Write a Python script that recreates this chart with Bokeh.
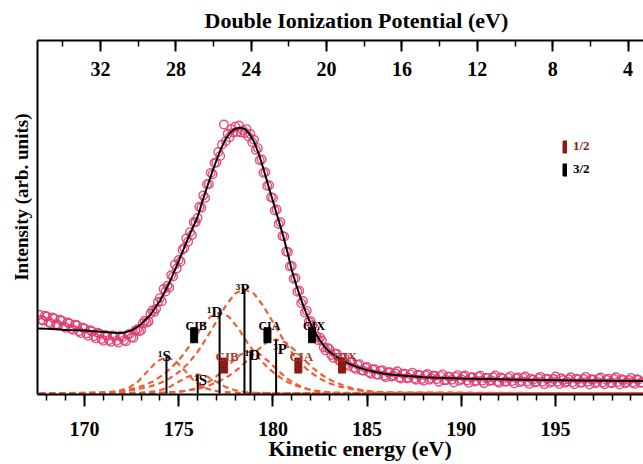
from bokeh.plotting import figure
from bokeh.models import (Range1d, LinearAxis, SingleIntervalTicker, FixedTicker,
                          Title, Legend, LegendItem, ColumnDataSource)
from bokeh.embed import file_html
from bokeh.resources import INLINE
from bokeh.core.properties import value

# ---------------- data ----------------
# experimental spectrum (kinetic energy, eV ; intensity, arb. units)
DATA_KE = [167.6, 167.8, 168.0, 168.2, 168.4, 168.6, 168.8, 169.0, 169.2, 169.4, 169.6, 169.8,
           170.0, 170.2, 170.4, 170.6, 170.8, 171.0, 171.2, 171.4, 171.6, 171.8, 172.0, 172.2,
           172.4, 172.6, 172.8, 173.0, 173.2, 173.4, 173.6, 173.8,
           174.0, 174.1, 174.2, 174.3, 174.4, 174.5, 174.6, 174.7, 174.8, 174.9,
           175.0, 175.1, 175.2, 175.3, 175.4, 175.5, 175.6, 175.7, 175.8, 175.9,
           176.0, 176.1, 176.2, 176.3, 176.4, 176.5, 176.6, 176.7, 176.8, 176.9,
           177.0, 177.1, 177.2, 177.3, 177.4, 177.5, 177.6, 177.7, 177.8, 177.9,
           178.0, 178.1, 178.2, 178.3, 178.4, 178.5, 178.6, 178.7, 178.8, 178.9,
           179.0, 179.1, 179.2, 179.3, 179.4, 179.5, 179.6, 179.7, 179.8, 179.9,
           180.0, 180.1, 180.2, 180.3, 180.4, 180.5, 180.6, 180.7, 180.8, 180.9,
           181.0, 181.1, 181.2, 181.3, 181.4, 181.5, 181.6, 181.7, 181.8, 181.9, 182.0,
           182.2, 182.4, 182.6, 182.8, 183.0, 183.2, 183.4, 183.6, 183.8,
           184.0, 184.2, 184.4, 184.6, 184.8, 185.0, 185.2, 185.4, 185.6, 185.8,
           186.0, 186.2, 186.4, 186.6, 186.8, 187.0, 187.2, 187.4, 187.6, 187.8,
           188.0, 188.2, 188.4, 188.6, 188.8, 189.0, 189.2, 189.4, 189.6, 189.8,
           190.0, 190.2, 190.4, 190.6, 190.8, 191.0, 191.2, 191.4, 191.6, 191.8,
           192.0, 192.2, 192.4, 192.6, 192.8, 193.0, 193.2, 193.4, 193.6, 193.8,
           194.0, 194.2, 194.4, 194.6, 194.8, 195.0, 195.2, 195.4, 195.6, 195.8,
           196.0, 196.2, 196.4, 196.6, 196.8, 197.0, 197.2, 197.4, 197.6, 197.8,
           198.0, 198.2, 198.4, 198.6, 198.8, 199.0, 199.2, 199.4, 199.6]
DATA_I = [22.3, 20.6, 21.8, 19.9, 21.2, 19.4, 20.6, 18.6, 19.9, 18.0, 19.3, 17.1,
          18.4, 16.3, 17.6, 15.6, 16.9, 14.9, 16.3, 14.6, 16.2, 14.4, 15.9, 14.8,
          16.9, 15.8, 18.2, 17.9, 20.6, 20.4, 23.5, 24.0,
          27.0, 26.1, 29.6, 28.9, 30.5, 30.0, 33.5, 33.1, 36.5, 35.4,
          37.8, 37.4, 40.7, 41.2, 43.9, 43.0, 45.7, 44.9, 48.5, 48.5,
          49.7, 52.9, 52.6, 56.1, 55.4, 59.3, 59.3, 62.5, 62.1, 65.3,
          65.4, 68.4, 67.3, 70.5, 76.2, 71.5, 73.6, 72.6, 74.9, 73.9,
          75.6, 74.1, 75.9, 73.9, 74.6, 73.8, 74.9, 72.8, 73.5, 71.2,
          71.9, 69.0, 69.5, 66.1, 66.3, 62.5, 62.7, 58.8, 59.0, 55.6,
          55.4, 51.8, 52.1, 48.0, 48.5, 44.6, 44.5, 40.2, 40.1, 36.0,
          36.1, 32.5, 32.7, 28.8, 29.1, 25.6, 26.2, 22.9, 23.4, 20.3, 20.5,
          18.4, 15.1, 15.0, 12.2, 12.6, 10.1, 11.2, 9.0, 10.1,
          7.8, 9.0, 6.9, 8.3, 6.4, 7.5, 5.6, 6.9, 5.3, 6.6,
          4.6, 6.0, 5.1, 6.3, 4.2, 5.6, 4.4, 5.9, 3.9, 5.2,
          3.6, 5.5, 4.3, 5.0, 3.3, 5.4, 3.8, 4.7, 3.1, 5.2,
          4.0, 5.1, 3.0, 4.6, 3.6, 5.0, 2.9, 4.4, 3.7, 5.1,
          3.0, 4.2, 3.4, 4.9, 2.8, 4.5, 3.5, 4.8, 2.7, 3.9,
          3.3, 4.7, 2.6, 4.1, 3.4, 4.8, 2.7, 3.8, 3.3, 4.6,
          2.6, 4.0, 3.1, 4.7, 2.5, 3.9, 3.2, 4.5, 2.6, 4.2,
          2.9, 4.6, 2.5, 3.8, 3.2, 4.4, 2.7, 3.9, 3.1]
# interleaved channels of the same spectrum (flat regions)
DATA2_KE = [167.7, 167.9, 168.1, 168.3, 168.5, 168.7, 168.9, 169.1, 169.3, 169.5, 169.7, 169.9,
            170.1, 170.3, 170.5, 170.7, 170.9, 171.1, 171.3, 171.5, 171.7, 171.9, 172.1, 172.3,
            172.5, 172.7, 172.9, 173.1, 173.3, 173.5, 173.7, 173.9,
            182.1, 182.3, 182.5, 182.7, 182.9, 183.1, 183.3, 183.5, 183.7, 183.9,
            184.1, 184.3, 184.5, 184.7, 184.9, 185.1, 185.3, 185.5, 185.7, 185.9,
            186.1, 186.3, 186.5, 186.7, 186.9, 187.1, 187.3, 187.5, 187.7, 187.9,
            188.1, 188.3, 188.5, 188.7, 188.9, 189.1, 189.3, 189.5, 189.7, 189.9,
            190.1, 190.3, 190.5, 190.7, 190.9, 191.1, 191.3, 191.5, 191.7, 191.9,
            192.1, 192.3, 192.5, 192.7, 192.9, 193.1, 193.3, 193.5, 193.7, 193.9,
            194.1, 194.3, 194.5, 194.7, 194.9, 195.1, 195.3, 195.5, 195.7, 195.9,
            196.1, 196.3, 196.5, 196.7, 196.9, 197.1, 197.3, 197.5, 197.7, 197.9,
            198.1, 198.3, 198.5, 198.7, 198.9, 199.1, 199.3, 199.5]
DATA2_I = [20.9, 22.0, 20.2, 21.5, 19.6, 20.9, 19.0, 20.1, 18.3, 19.5, 17.6, 18.6,
           17.0, 17.9, 16.2, 17.2, 15.4, 16.6, 15.1, 16.4, 14.9, 16.3, 15.1, 16.6,
           15.9, 17.8, 17.6, 19.9, 20.0, 22.6, 23.1, 25.9,
           19.3, 16.2, 15.8, 13.0, 12.9, 10.9, 11.3, 9.4, 10.0, 8.3,
           8.9, 7.3, 8.1, 6.6, 7.3, 6.0, 6.8, 5.4, 6.4, 5.0,
           6.0, 4.8, 5.7, 4.5, 5.6, 4.3, 5.4, 4.2, 5.3, 4.1,
           5.1, 3.9, 5.0, 4.0, 4.9, 3.7, 4.8, 3.9, 4.7, 3.6,
           4.8, 3.7, 4.5, 3.4, 4.7, 3.6, 4.4, 3.5, 4.6, 3.4,
           4.5, 3.3, 4.4, 3.5, 4.3, 3.2, 4.4, 3.4, 4.2, 3.1,
           4.3, 3.3, 4.2, 3.0, 4.1, 3.3, 4.3, 3.0, 4.0, 3.2,
           4.2, 3.0, 4.1, 3.3, 4.0, 2.9, 4.2, 3.1, 3.9, 3.0,
           4.1, 3.2, 4.0, 2.9, 3.8, 3.1, 4.0, 3.0]

# total fit
FIT_KE = [167.5, 168.0, 168.5, 169.0, 169.5, 170.0, 170.5, 171.0, 171.5, 172.0, 172.5, 173.0, 173.5,
          174.0, 174.5, 175.0, 175.5, 176.0,
          176.25, 176.5, 176.75, 177.0, 177.25, 177.5, 177.75, 178.0, 178.25, 178.5, 178.75,
          179.0, 179.25, 179.5, 179.75, 180.0, 180.25, 180.5, 180.75, 181.0, 181.25, 181.5,
          181.75, 182.0, 182.25, 182.5, 182.75,
          183.0, 183.5, 184.0, 184.5, 185.0, 185.5, 186.0, 186.5, 187.0,
          188.0, 189.0, 190.0, 192.0, 194.0, 196.0, 198.0, 199.7]
FIT_I = [18.4, 18.3, 18.2, 18.0, 17.9, 17.8, 17.6, 17.4, 17.2, 17.1, 17.8, 19.6, 22.3,
         26.2, 31.3, 37.5, 44.0, 50.0,
         54.3, 58.4, 62.3, 66.0, 69.4, 72.2, 74.0, 75.0, 75.3, 75.0, 73.6,
         71.3, 67.9, 63.6, 59.0, 54.5, 50.0, 45.5, 40.5, 35.0, 30.5, 26.5,
         23.0, 19.8, 17.2, 15.0, 13.2,
         11.8, 9.9, 8.5, 7.4, 6.6, 6.0, 5.5, 5.2, 5.0,
         4.6, 4.4, 4.2, 4.0, 3.8, 3.7, 3.6, 3.5]

# fit components (dashed)
C1_KE = [167.6, 170.35, 171.35, 171.85, 172.35, 172.85, 173.35, 173.85, 174.35, 174.85, 175.35, 175.85,
         176.35, 176.85, 177.35, 178.35, 199.7]
C1_I = [0.0, 0.1, 0.4, 0.8, 1.6, 3.4, 6.3, 9.1, 10.4, 9.1, 6.3, 3.4, 1.6, 0.8, 0.4, 0.1, 0.0]
C2_KE = [167.6, 172.0, 173.0, 173.5, 174.0, 174.5, 175.0, 175.5, 176.0, 176.5, 177.0, 177.5, 178.0,
         178.5, 179.0, 180.0, 199.7]
C2_I = [0.0, 0.05, 0.2, 0.4, 0.9, 1.8, 3.3, 4.8, 5.4, 4.8, 3.3, 1.8, 0.9, 0.4, 0.2, 0.05, 0.0]
C3_KE = [167.6, 171.17, 172.17, 172.67, 173.17, 173.67, 174.17, 174.67, 175.17, 175.67, 176.17, 176.67,
         177.17, 177.67, 178.17, 178.67, 179.17, 179.67, 180.17, 180.67, 181.17, 181.67, 182.17,
         183.17, 199.7]
C3_I = [0.0, 0.2, 0.8, 1.5, 2.3, 3.5, 5.3, 7.6, 10.5, 14.2, 18.4, 21.7, 22.9, 21.7, 18.4, 14.2,
        10.5, 7.6, 5.3, 3.5, 2.3, 1.5, 0.8, 0.2, 0.0]
C4_KE = [167.6, 171.49, 172.49, 172.99, 173.49, 173.99, 174.49, 174.99, 175.49, 175.99, 176.49, 176.99,
         177.49, 177.99, 178.49, 178.99, 179.49, 179.99, 180.49, 180.99, 181.49, 181.99, 182.49,
         182.99, 183.49, 184.49, 185.49, 199.7]
C4_I = [0.0, 0.3, 0.9, 1.4, 2.0, 2.9, 4.2, 6.0, 8.4, 11.7, 15.8, 20.3, 24.8, 28.3, 29.5, 28.3,
        24.8, 20.3, 15.8, 11.7, 8.4, 6.0, 4.2, 2.9, 2.0, 0.9, 0.3, 0.0]
C5_KE = [167.6, 173.81, 174.81, 175.31, 175.81, 176.31, 176.81, 177.31, 177.81, 178.31, 178.81, 179.31,
         179.81, 180.31, 180.81, 181.31, 181.81, 182.31, 182.81, 183.81, 199.7]
C5_I = [0.0, 0.1, 0.4, 0.7, 1.3, 2.4, 4.0, 6.3, 8.9, 11.1, 11.9, 11.1, 8.9, 6.3, 4.0, 2.4, 1.3,
        0.7, 0.4, 0.1, 0.0]
C6_KE = [167.6, 174.17, 175.17, 175.67, 176.17, 176.67, 177.17, 177.67, 178.17, 178.67, 179.17, 179.67,
         180.17, 180.67, 181.17, 181.67, 182.17, 182.67, 183.17, 183.67, 184.17, 184.67, 185.17,
         186.17, 199.7]
C6_I = [0.0, 0.2, 0.6, 1.0, 1.5, 2.4, 3.5, 5.0, 7.0, 9.5, 12.2, 14.5, 15.3, 14.5, 12.2, 9.5,
        7.0, 5.0, 3.5, 2.4, 1.5, 1.0, 0.6, 0.2, 0.0]
COMPONENTS = [(C1_KE, C1_I), (C2_KE, C2_I), (C3_KE, C3_I), (C4_KE, C4_I), (C5_KE, C5_I), (C6_KE, C6_I)]

# atomic-like term sticks
STICK_KE = [174.35, 176.01, 177.17, 178.49, 178.81, 180.17]
STICK_I = [10.4, 5.4, 22.9, 29.5, 11.9, 15.3]
STICK_LABEL = ["\u00b9S", "\u00b9S", "\u00b9D", "\u00b3P", "\u00b9D", "\u00b3P"]
STICK_DX = [-2, 3, -5, -2, 2, 4]      # label offsets (px)
STICK_DY = [-1, 6, -1, 0, 4, 10]

# spin-orbit components
HALF_KE = [177.41, 181.35, 183.67]
HALF_I = [7.9, 7.9, 7.9]
THREEHALF_KE = [175.82, 179.71, 182.08]
THREEHALF_I = [16.5, 16.5, 16.5]
SO_LABEL = ["CIB", "CIA", "CIX"]

DIP_OFFSET = 202.85          # DIP = DIP_OFFSET - KE
X_START, X_END = 167.505, 199.67

FONT = "Liberation Serif"
PINK = "#e23a6e"
ORANGE = "#ef5e34"
DARKRED = "#8b1c12"
LABELRED = "#a3402c"

# ---------------- figure ----------------
p = figure(frame_width=606, frame_height=354, output_backend="svg", toolbar_location=None,
           x_range=Range1d(X_START, X_END), y_range=Range1d(-0.3, 100.0),
           min_border_left=37, min_border_right=0, min_border_top=40, min_border_bottom=70)
p.outline_line_color = None
p.grid.visible = False
p.background_fill_color = "white"
p.border_fill_color = "white"

# bottom axis
xa = p.xaxis[0]
xa.ticker = SingleIntervalTicker(interval=5, num_minor_ticks=5)
xa.major_tick_out = 12
xa.major_tick_in = 0
xa.minor_tick_out = 6
xa.minor_tick_in = 0
xa.axis_line_width = 2
xa.major_tick_line_width = 2
xa.minor_tick_line_width = 1.5
xa.major_label_standoff = 15
xa.major_label_text_font = FONT
xa.major_label_text_font_size = "20px"
xa.major_label_text_font_style = "bold"
xa.major_label_text_color = "black"

# left axis: line only
ya = p.yaxis[0]
ya.ticker = FixedTicker(ticks=[])
ya.major_tick_out = 0
ya.major_tick_in = 0
ya.minor_tick_out = 0
ya.minor_tick_in = 0
ya.major_label_standoff = 0
ya.major_label_text_font_size = "0px"
ya.axis_line_width = 2

# top axis: double ionization potential
p.extra_x_ranges = {"dip": Range1d(DIP_OFFSET - X_START, DIP_OFFSET - X_END)}
ta = LinearAxis(x_range_name="dip", ticker=SingleIntervalTicker(interval=4, num_minor_ticks=2),
                major_tick_in=11, major_tick_out=0, minor_tick_in=6, minor_tick_out=0,
                axis_line_width=2, major_tick_line_width=2, minor_tick_line_width=1.5,
                major_label_standoff=-35,
                major_label_text_font=FONT, major_label_text_font_size="20px",
                major_label_text_font_style="bold", major_label_text_color="black")
p.add_layout(ta, "above")

# axis titles
p.title.text = "Double Ionization Potential (eV)"
p.title.align = "left"
p.title.offset = 167
p.title.standoff = 13
p.title.vertical_align = "middle"
p.title.text_font = FONT
p.title.text_font_size = "22px"
p.title.text_font_style = "bold"
p.title.text_color = "black"

p.add_layout(Title(text="Kinetic energy (eV)", align="left", offset=231, standoff=-7,
                   vertical_align="middle", text_font=FONT, text_font_size="22px",
                   text_font_style="bold", text_color="black"), "below")
p.add_layout(Title(text="Intensity (arb. units)", align="right", offset=73, standoff=9,
                   vertical_align="middle", text_font=FONT, text_font_size="19px",
                   text_font_style="bold", text_color="black"), "left")

# ---------------- glyphs ----------------
for kx, iy in ((DATA_KE, DATA_I), (DATA2_KE, DATA2_I)):
    p.scatter(kx, iy, marker="circle", size=8.5, fill_color=None,
              line_color=PINK, line_width=1.4, line_alpha=0.9)

for ke, inten in COMPONENTS:
    p.line(ke, inten, line_color=ORANGE, line_width=2.2, line_dash="6 4")

p.line(FIT_KE, FIT_I, line_color="black", line_width=2)

p.segment(x0=STICK_KE, y0=[0] * len(STICK_KE), x1=STICK_KE, y1=STICK_I,
          line_color="black", line_width=2)
stick_src = ColumnDataSource(dict(x=STICK_KE, y=STICK_I, t=STICK_LABEL, dx=STICK_DX, dy=STICK_DY))
p.text(x="x", y="y", text="t", x_offset="dx", y_offset="dy", source=stick_src,
       text_font=value(FONT), text_font_style="bold", text_font_size=value("15px"),
       text_align="center", text_baseline="alphabetic", text_color="black")

r_three = p.rect(x=THREEHALF_KE, y=THREEHALF_I, width=7, height=15, width_units="screen",
                 height_units="screen", fill_color="black", line_color="black")
r_half = p.rect(x=HALF_KE, y=HALF_I, width=7, height=15, width_units="screen",
                height_units="screen", fill_color=DARKRED, line_color=DARKRED)

p.text(x=THREEHALF_KE, y=THREEHALF_I, text=SO_LABEL, x_offset=2, y_offset=-9,
       text_font=value(FONT), text_font_style="bold", text_font_size=value("12px"),
       text_align="center", text_baseline="alphabetic", text_color="black")
p.text(x=HALF_KE, y=HALF_I, text=SO_LABEL, x_offset=3, y_offset=-9,
       text_font=value(FONT), text_font_style="bold", text_font_size=value("13px"),
       text_align="center", text_baseline="alphabetic", text_color=LABELRED)

# ---------------- legends ----------------
def make_legend(label, renderer, color, loc):
    return Legend(items=[LegendItem(label=label, renderers=[renderer])], location=loc,
                  glyph_width=5, glyph_height=15, label_height=15, label_standoff=6,
                  padding=0, margin=0, spacing=0, border_line_color=None,
                  background_fill_alpha=0, label_text_font=FONT, label_text_font_style="bold",
                  label_text_font_size="13px", label_text_color=color)

p.add_layout(make_legend("1/2", r_half, DARKRED, (525, 240)))
p.add_layout(make_legend("3/2", r_three, "black", (525, 217)))

open("out.html", "w").write(file_html(p, INLINE))
